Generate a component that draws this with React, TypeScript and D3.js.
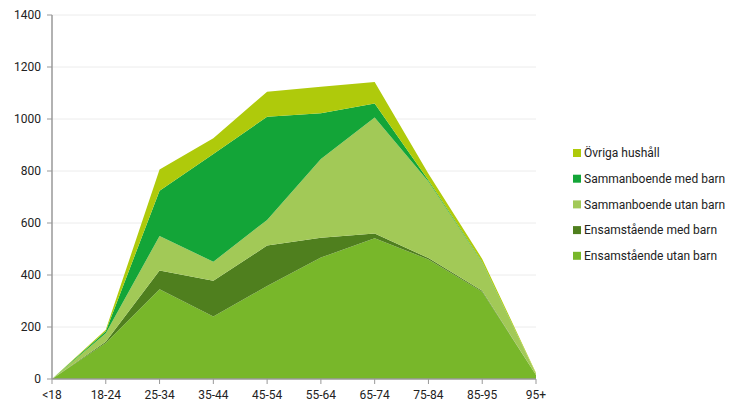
import React from "react";
import * as d3 from "d3";

const categories = ["<18", "18-24", "25-34", "35-44", "45-54", "55-64", "65-74", "75-84", "85-95", "95+"];
const ensamUtan = [0, 138, 345, 240, 358, 467, 541, 460, 336, 15];
const ensamMed = [0, 5, 72, 138, 155, 76, 19, 5, 3, 0];
const sammanUtan = [0, 33, 133, 73, 99, 303, 446, 295, 108, 5];
const sammanMed = [0, 8, 174, 414, 397, 176, 54, 4, 3, 0];
const ovriga = [0, 5, 82, 61, 96, 102, 82, 25, 12, 3];
const yTicks = [0, 200, 400, 600, 800, 1000, 1200, 1400];

const seriesNames = [
  "Ensamstående utan barn",
  "Ensamstående med barn",
  "Sammanboende utan barn",
  "Sammanboende med barn",
  "Övriga hushåll",
];
const seriesValues = [ensamUtan, ensamMed, sammanUtan, sammanMed, ovriga];
const colors = ["#78b72a", "#4f7f1e", "#a2c957", "#13a538", "#afca0b"];

export default function App() {
  const W = 742, H = 401;
  const left = 52, right = 536, top = 15, bottom = 379;
  const x = d3.scalePoint<string>().domain(categories).range([left, right]);
  const y = d3.scaleLinear().domain([0, 1400]).range([bottom, top]);
  const rows = categories.map((c, i) => {
    const r: any = { cat: c };
    seriesNames.forEach((n, s) => (r[n] = seriesValues[s][i]));
    return r;
  });
  const stacked = d3.stack<any>().keys(seriesNames)(rows);
  const area = d3
    .area<any>()
    .x((d) => x(d.data.cat) as number)
    .y0((d) => y(d[0]))
    .y1((d) => y(d[1]));
  const legendOrder = [4, 3, 2, 1, 0];
  const font = "Roboto, sans-serif";
  return (
    <svg width={W} height={H} style={{ position: "absolute", left: 0, top: 0 }}>
      {yTicks.map((t) => (
        <g key={t}>
          {t > 0 && <line x1={left} x2={right} y1={y(t)} y2={y(t)} stroke="#ececec" strokeWidth={1} />}
          <line x1={left - 5} x2={left} y1={y(t)} y2={y(t)} stroke="#999" />
          <text x={left - 11} y={y(t)} dy="0.35em" textAnchor="end" fontSize={12} fontFamily={font} fill="#222">
            {t}
          </text>
        </g>
      ))}
      {stacked.map((s, i) => (
        <path key={s.key} d={area(s as any) as string} fill={colors[i]} />
      ))}
      <line x1={left} x2={left} y1={top} y2={bottom} stroke="#999" strokeWidth={1.5} />
      <line x1={left} x2={right} y1={bottom} y2={bottom} stroke="#999" strokeWidth={1.5} />
      {categories.map((c) => (
        <g key={c}>
          <line x1={x(c)} x2={x(c)} y1={bottom} y2={bottom + 5} stroke="#999" />
          <text x={x(c)} y={bottom + 16} dy="0.35em" textAnchor="middle" fontSize={12} fontFamily={font} fill="#222">
            {c}
          </text>
        </g>
      ))}
      {legendOrder.map((s, i) => (
        <g key={s} transform={`translate(573, ${153 + i * 25.7})`}>
          <rect x={0} y={-4} width={8} height={8} fill={colors[s]} />
          <text x={11} y={0} dy="0.35em" fontSize={12} fontFamily={font} fill="#222">
            {seriesNames[s]}
          </text>
        </g>
      ))}
    </svg>
  );
}
